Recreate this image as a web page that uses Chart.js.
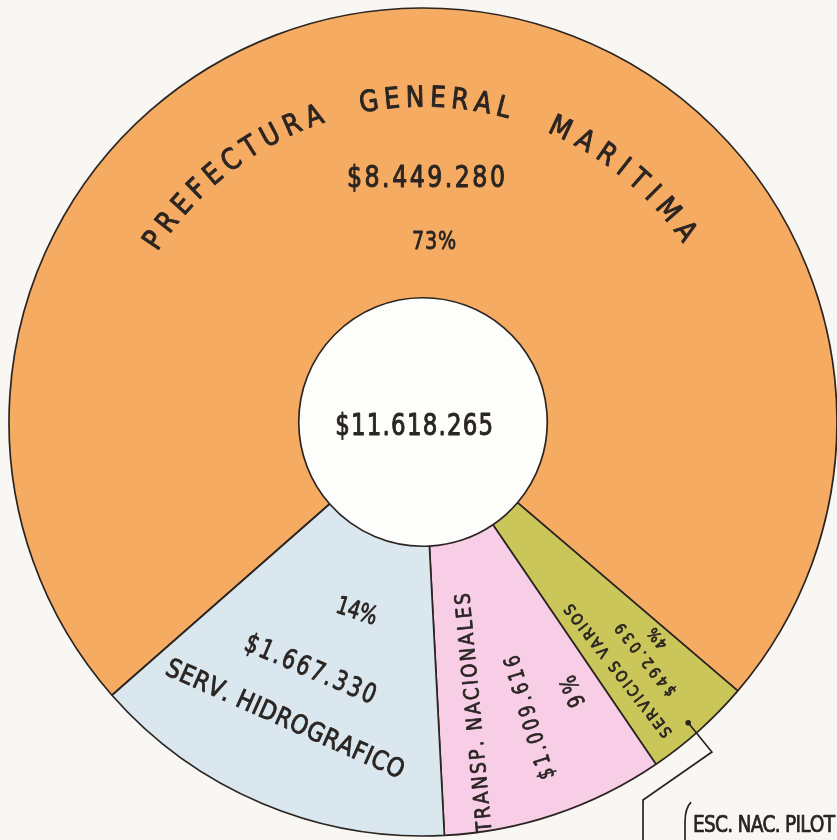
<!DOCTYPE html>
<html><head><meta charset="utf-8">
<script src="https://cdn.jsdelivr.net/npm/chart.js@4/dist/chart.umd.min.js"></script>
<style>
html,body{margin:0;padding:0;background:#f8f7f4;overflow:hidden}
#wrap{width:837px;height:840px;position:relative}
</style>
</head><body>
<div id="wrap"><canvas id="c" width="837" height="840"></canvas></div>
<script>
// ---------- data ----------
const categories = ['PREFECTURA GENERAL MARITIMA', 'SERVICIOS VARIOS', 'TRANSP. NACIONALES', 'SERV. HIDROGRAFICO'];
const values = [8449280, 492039, 1009616, 1667330];
const amountLabels = ['$8.449.280', '$492.039', '$1.009.616', '$1.667.330'];
const percentLabels = ['73%', '4%', '9%', '14%'];
const totalLabel = '$11.618.265';
const extraLabel = 'ESC. NAC. PILOT';
const colors = ['#F6AB62', '#CBC659', '#F7CEE6', '#DAE7EE'];

// ---------- drawing helpers ----------
const FONT = '"DejaVu Sans Condensed","DejaVu Sans",sans-serif';
const INK = '#2a2522';
const CAP = 0.729;

function polar(cx, cy, deg, r) {
  const t = deg * Math.PI / 180;
  return { x: cx + r * Math.sin(t), y: cy - r * Math.cos(t) };
}

function inkChar(ctx, c, x, y, size, extra) {
  ctx.fillText(c, x, y);
  ctx.lineWidth = Math.max(0.5, size * 0.032) + (extra || 0);
  ctx.strokeText(c, x, y);
}

function straightText(ctx, str, x, y, rotDeg, size, width, sx, extra) {
  ctx.save();
  ctx.translate(x, y);
  ctx.rotate(rotDeg * Math.PI / 180);
  ctx.scale(sx, 1);
  ctx.font = `normal ${size}px ${FONT}`;
  ctx.fillStyle = INK;
  ctx.strokeStyle = INK;
  ctx.lineJoin = 'round';
  ctx.textBaseline = 'alphabetic';
  ctx.textAlign = 'left';
  const chars = [...str];
  const ws = chars.map(c => ctx.measureText(c).width);
  const natural = ws.reduce((a, b) => a + b, 0);
  const target = width / sx;
  const track = chars.length > 1 ? (target - natural) / (chars.length - 1) : 0;
  let xx = -target / 2;
  const yOff = size * CAP / 2;
  chars.forEach((c, i) => { inkChar(ctx, c, xx, yOff, size, extra); xx += ws[i] + track; });
  ctx.restore();
}

function arcText(ctx, str, cx, cy, r, centerDeg, spanDeg, size, sx) {
  ctx.save();
  ctx.font = `normal ${size}px ${FONT}`;
  const chars = [...str];
  const ws = chars.map(c => ctx.measureText(c).width * sx);
  let pairs = 0;
  for (let i = 0; i < chars.length - 1; i++) pairs += (ws[i] + ws[i + 1]) / 2;
  const spanLen = spanDeg * Math.PI / 180 * r;
  const track = chars.length > 1 ? (spanLen - pairs) / (chars.length - 1) : 0;
  let s = -spanLen / 2;
  ctx.fillStyle = INK;
  ctx.strokeStyle = INK;
  ctx.lineJoin = 'round';
  ctx.textBaseline = 'alphabetic';
  ctx.textAlign = 'left';
  chars.forEach((c, i) => {
    const deg = centerDeg + s / r * 180 / Math.PI;
    const p = polar(cx, cy, deg, r);
    ctx.save();
    ctx.translate(p.x, p.y);
    ctx.rotate(deg * Math.PI / 180);
    ctx.scale(sx, 1);
    inkChar(ctx, c, -ws[i] / sx / 2, size * CAP / 2, size);
    ctx.restore();
    if (i < chars.length - 1) s += (ws[i] + ws[i + 1]) / 2 + track;
  });
  ctx.restore();
}

// ---------- plugins ----------
const paperPlugin = {
  id: 'paper',
  beforeDraw(chart) {
    const ctx = chart.ctx;
    ctx.save();
    ctx.fillStyle = '#f8f7f4';
    ctx.fillRect(0, 0, chart.width, chart.height);
    ctx.restore();
  }
};

const holePlugin = {
  id: 'hole',
  beforeDatasetsDraw(chart) {
    const a = chart.getDatasetMeta(0).data[0];
    const ctx = chart.ctx;
    ctx.save();
    ctx.fillStyle = '#fdfdfc';
    ctx.beginPath();
    ctx.arc(a.x, a.y, a.innerRadius, 0, Math.PI * 2);
    ctx.fill();
    ctx.restore();
  }
};

const labelPlugin = {
  id: 'labels',
  afterDatasetsDraw(chart) {
    const ctx = chart.ctx;
    const a = chart.getDatasetMeta(0).data[0];
    const cx = a.x, cy = a.y;
    const SW = 0.95;  // squeeze for words
    const SN = 0.85;  // squeeze for numbers

    // title words along the arc
    const words = categories[0].split(' ');
    const wordPos = [[-37.8, 36.4], [2.4, 24.0], [39.55, 28.9]];
    words.forEach((w, i) => arcText(ctx, w, cx, cy, 326, wordPos[i][0], wordPos[i][1], 29, SW));

    const put = (str, deg, r, rot, size, width, sx, extra) => {
      const p = polar(cx, cy, deg, r);
      straightText(ctx, str, p.x, p.y, rot, size, width, sx, extra);
    };

    // Prefectura
    put(amountLabels[0], 0.7, 246, 0, 31, 158, SN);
    put(percentLabels[0], 3.5, 182, 0, 25, 44, SN);
    // total in hole
    put(totalLabel, 257.5, 9, 0, 30, 158, SN);
    // Serv. Hidrografico
    put(percentLabels[3], 199.3, 199, 18, 25, 42, SN);
    put(amountLabels[3], 204.5, 270, 23, 27, 140, SN);
    put(categories[3], 204.9, 326, 24, 26, 258, SW);
    // Transp. Nacionales
    put(categories[2], 170.3, 295, -95.3, 21, 240, SW);
    put(amountLabels[2], 160.35, 314, -106.6, 22, 128, SN);
    put(percentLabels[2], 151.1, 308, -112, 23, 32, SN);
    // Servicios varios
    put(categories[1], 142.0, 316, -128, 15.5, 164, SW, 0.3);
    put(amountLabels[1], 137.0, 325.5, -128, 15.5, 88, 0.95, 0.3);
    put(percentLabels[1], 132.8, 319, -128, 15.5, 22, 0.95, 0.3);

    // Esc. Nac. Pilot leader
    const d = polar(cx, cy, 138.6, 401);
    const b1 = polar(cx, cy, 138.8, 438.6);
    const b2 = polar(cx, cy, 149.8, 437.4);
    ctx.save();
    ctx.strokeStyle = INK;
    ctx.fillStyle = INK;
    ctx.lineWidth = 1.7;
    ctx.beginPath();
    ctx.arc(d.x, d.y, 2.8, 0, Math.PI * 2);
    ctx.fill();
    ctx.beginPath();
    ctx.moveTo(d.x, d.y);
    ctx.lineTo(b1.x, b1.y);
    ctx.lineTo(b2.x, b2.y);
    ctx.lineTo(b2.x, chart.height + 5);
    ctx.stroke();
    // bracket
    ctx.beginPath();
    ctx.moveTo(b2.x + 48, b2.y + 2);
    ctx.quadraticCurveTo(b2.x + 42, b2.y + 8, b2.x + 42, b2.y + 22);
    ctx.lineTo(b2.x + 42, chart.height + 5);
    ctx.stroke();
    ctx.restore();
    straightText(ctx, extraLabel, b2.x + 121, b2.y + 24, 0, 23, 142, 0.9);
  }
};

// ---------- chart ----------
new Chart(document.getElementById('c'), {
  type: 'doughnut',
  data: {
    labels: categories,
    datasets: [{
      data: values,
      backgroundColor: colors,
      borderColor: '#2b2522',
      borderWidth: 1.7,
      radius: 414,
      cutout: 124
    }]
  },
  options: {
    responsive: false,
    devicePixelRatio: 1,
    animation: false,
    rotation: 228.7,
    layout: { padding: { left: 9, right: 0, top: 4, bottom: 0 } },
    plugins: { legend: { display: false }, tooltip: { enabled: false } },
    events: []
  },
  plugins: [paperPlugin, holePlugin, labelPlugin]
});
</script>
</body></html>
